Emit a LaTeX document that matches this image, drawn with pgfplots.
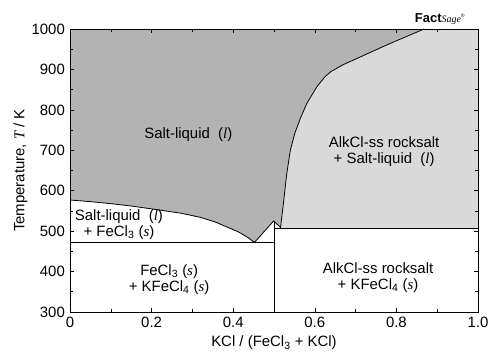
\documentclass[border=0pt]{standalone}
\usepackage{fontspec}
\setmainfont{Liberation Sans}
\newfontfamily\tnr{Liberation Serif}
\usepackage{pgfplots}
\pgfplotsset{compat=1.18}
\definecolor{liq}{HTML}{B3B3B3}
\definecolor{two}{HTML}{D9D9D9}
\newcommand{\iv}[1]{{\tnr\itshape #1}}
\begin{document}
\fontsize{15}{17}\selectfont
\begin{tikzpicture}
\path[use as bounding box] (0,0) rectangle (491bp,353bp);
\begin{axis}[
  at={(70bp,41bp)}, anchor=south west, scale only axis,
  width=408bp, height=283bp,
  xmin=0, xmax=1, ymin=300, ymax=1000,
  xtick={0,0.2,0.4,0.6,0.8,1.0}, xticklabels={0,0.2,0.4,0.6,0.8,1.0},
  minor x tick num=1,
  ytick={300,400,500,600,700,800,900,1000}, minor y tick num=1,
  tick align=inside, major tick length=4bp, minor tick length=3bp,
  tick style={line width=0.6bp, black},
  axis line style={line width=0.9bp},
  axis on top, clip=false,
  /pgf/number format/assume math mode=true,
  yticklabel style={/pgf/number format/1000 sep={}},
  ticklabel style={font=\fontsize{15}{17}\selectfont},
  label style={font=\fontsize{15}{17}\selectfont},
  xlabel={KCl / (FeCl\textsubscript{3} + KCl)},
  xlabel style={yshift=2bp},
  ylabel={Temperature, \iv{T} / K},
  ylabel style={yshift=-6bp},
]
% liquid region
\addplot[fill=liq, draw=none] coordinates {
 (0,1000) (0,577) (0.05,573) (0.1,568) (0.151,562) (0.2,555) (0.274,544)
 (0.32,534) (0.355,523) (0.39,508) (0.413,498) (0.435,485) (0.452,472)
 (0.499,525) (0.516,509)
 (0.523,568) (0.531,640) (0.540,700) (0.551,742) (0.565,780) (0.58,815)
 (0.605,857) (0.625,882) (0.64,895) (0.67,912) (0.703,927) (0.784,964) (0.868,1000)
};
% two-phase region AlkCl-ss + liquid
\addplot[fill=two, draw=none] coordinates {
 (0.516,507) (0.516,509)
 (0.523,568) (0.531,640) (0.540,700) (0.551,742) (0.565,780) (0.58,815)
 (0.605,857) (0.625,882) (0.64,895) (0.67,912) (0.703,927) (0.784,964) (0.868,1000)
 (1,1000) (1,507)
};
% boundaries
\addplot[black, line width=0.8bp] coordinates {
 (0,577) (0.05,573) (0.1,568) (0.151,562) (0.2,555) (0.274,544)
 (0.32,534) (0.355,523) (0.39,508) (0.413,498) (0.435,485) (0.452,472)
 (0.499,525) (0.516,509)
 (0.523,568) (0.531,640) (0.540,700) (0.551,742) (0.565,780) (0.58,815)
 (0.605,857) (0.625,882) (0.64,895) (0.67,912) (0.703,927) (0.784,964) (0.868,1000)
};
\addplot[black, line width=0.8bp] coordinates {(0,472) (0.5,472)};
\addplot[black, line width=0.8bp] coordinates {(0.5,507) (1,507)};
\addplot[black, line width=0.8bp] coordinates {(0.5,300) (0.5,525)};
% labels
\node at (axis cs:0.29,738) {Salt-liquid\ \ (\iv{l})};
\node[align=center] at (axis cs:0.12,517) {Salt-liquid\ \ (\iv{l})\\[-1pt] + FeCl\textsubscript{3} (\iv{s})};
\node[align=center] at (axis cs:0.243,381) {FeCl\textsubscript{3} (\iv{s})\\[-1pt] + KFeCl\textsubscript{4} (\iv{s})};
\node[align=center] at (axis cs:0.77,696) {AlkCl-ss rocksalt\\[-1pt] + Salt-liquid\ \ (\iv{l})};
\node[align=center] at (axis cs:0.755,385) {AlkCl-ss rocksalt\\[-1pt] + KFeCl\textsubscript{4} (\iv{s})};
\node[anchor=south, inner sep=0pt] at (rel axis cs:0.907,1) [yshift=4bp]
  {{\fontsize{13}{13}\selectfont\bfseries Fact}{\fontsize{10}{10}\selectfont\tnr\itshape Sage}\textsuperscript{\fontsize{5}{5}\selectfont ®}};
\end{axis}
\end{tikzpicture}
\end{document}
